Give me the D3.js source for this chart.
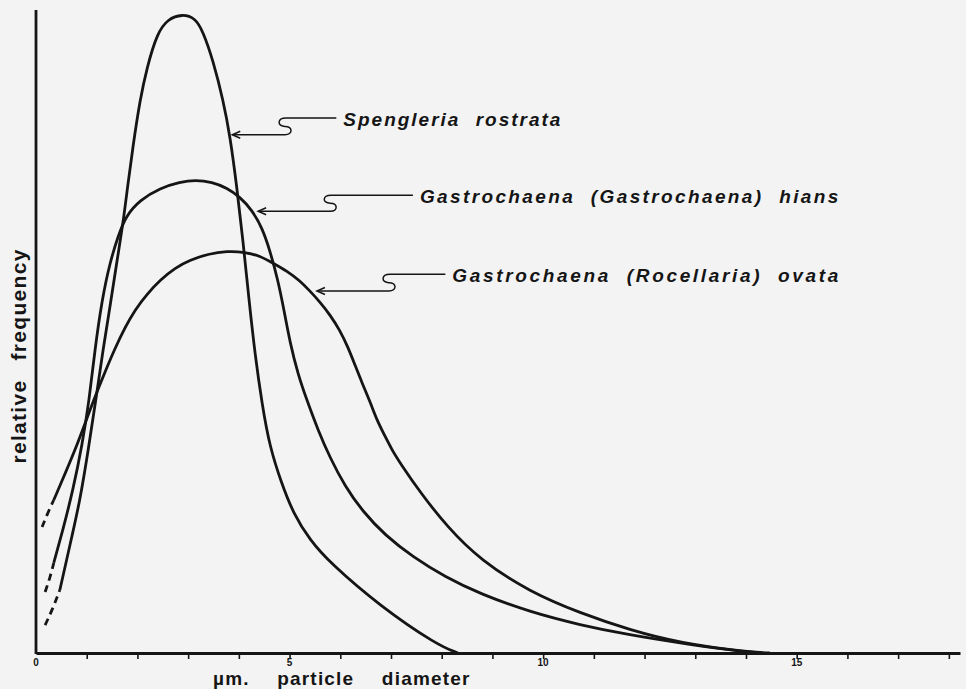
<!DOCTYPE html>
<html>
<head>
<meta charset="utf-8">
<script src="https://cdn.jsdelivr.net/npm/d3@7"></script>
<style>
  body { margin: 0; background: #f3f3f3; }
  svg { display: block; }
  text { font-family: "Liberation Sans", Arial, sans-serif; fill: #151515; }
</style>
</head>
<body>
<div id="chart"></div>
<script>
// particle diameter (um) vs relative frequency
var spengleria = [
    [0.18, 4.35], [0.32, 6.69], [0.47, 9.80], [0.67, 16.80], [0.87, 23.79], [1.03, 31.57],
    [1.18, 39.35], [1.32, 47.12], [1.48, 54.90], [1.60, 61.12], [1.72, 67.03], [1.81, 72.78],
    [1.91, 78.69], [2.05, 86.00], [2.19, 91.14], [2.39, 96.42], [2.60, 98.60], [2.88, 99.38],
    [3.14, 98.76], [3.29, 96.73], [3.49, 92.22], [3.69, 86.00], [3.83, 80.25], [3.96, 72.47],
    [4.08, 64.23], [4.20, 54.90], [4.32, 46.35], [4.46, 38.57], [4.61, 32.04], [4.84, 26.44],
    [5.07, 21.77], [5.40, 17.57], [5.80, 14.00], [6.78, 7.31], [7.91, 1.24], [8.32, 0]
];
var hians = [
    [0.18, 9.49], [0.28, 11.82], [0.35, 14.00], [0.53, 19.13], [0.73, 25.35], [0.91, 32.35],
    [1.05, 39.35], [1.16, 47.12], [1.30, 54.90], [1.46, 60.81], [1.62, 64.85], [1.77, 67.96],
    [2.05, 70.45], [2.45, 72.32], [2.84, 73.25], [3.14, 73.56], [3.47, 73.25], [3.77, 72.32],
    [4.02, 70.92], [4.26, 68.90], [4.46, 66.10], [4.61, 62.67], [4.77, 58.01], [4.89, 53.34],
    [5.01, 48.21], [5.17, 43.23], [5.34, 39.35], [5.56, 34.68], [5.80, 30.33], [6.09, 25.97],
    [6.45, 21.93], [6.88, 18.35], [7.43, 14.93], [8.07, 11.82], [8.76, 9.18], [9.74, 6.38],
    [10.73, 4.35], [11.71, 2.80], [12.70, 1.56], [13.69, 0.47], [14.28, 0]
];
var ovata = [
    [0.12, 19.60], [0.24, 21.93], [0.35, 23.79], [0.57, 27.84], [0.77, 31.57], [0.97, 35.77],
    [1.16, 39.81], [1.36, 43.70], [1.56, 47.43], [1.76, 50.70], [1.95, 53.34], [2.19, 55.83],
    [2.45, 58.01], [2.74, 59.88], [3.04, 61.12], [3.39, 62.05], [3.77, 62.52], [4.12, 62.36],
    [4.42, 61.74], [4.67, 60.65], [4.95, 59.41], [5.21, 57.85], [5.40, 56.30], [5.60, 54.59],
    [5.80, 52.57], [5.99, 50.23], [6.15, 47.59], [6.29, 44.79], [6.43, 41.99], [6.59, 39.04],
    [6.72, 36.24], [6.88, 33.75], [7.02, 31.57], [7.18, 29.55], [7.57, 25.04], [8.11, 19.60],
    [8.76, 14.46], [9.74, 9.49], [10.73, 6.22], [11.71, 3.58], [12.70, 1.56], [14.02, 0.16],
    [14.47, 0]
];
// below these diameters the curves are drawn dashed (extrapolated)
var dashedUpTo = [0.47, 0.35, 0.35];

var seriesNames = [
    "Spengleria rostrata",
    "Gastrochaena (Gastrochaena) hians",
    "Gastrochaena (Rocellaria) ovata"
];
var xTicks = d3.range(1, 19);
var xTickLabels = [0, 5, 10, 15];

// label leaders, in data units: arrow tip, S bend, text start / end
var leaderTips = [[3.87, 80.6], [4.38, 68.7], [5.54, 56.3]];
var leaderBends = [[4.91, 83.2], [5.80, 71.2], [6.96, 58.9]];
var labelSpan = [[6.06, 10.34], [7.57, 15.82], [8.21, 15.82]];

var margin = {top: 10, right: 6, bottom: 36, left: 36},
    width = 966 - margin.left - margin.right,
    height = 689 - margin.top - margin.bottom;

var svg = d3.select("#chart")
    .append("svg")
        .attr("width", 966)
        .attr("height", 689);

svg.append("rect")
    .attr("width", 966)
    .attr("height", 689)
    .attr("fill", "#f3f3f3");

var g = svg.append("g")
    .attr("transform", "translate(" + margin.left + "," + margin.top + ")");

var x = d3.scaleLinear().domain([0, 18.22]).range([0, width]);
var y = d3.scaleLinear().domain([0, 100]).range([height, 0]);

var line = d3.line()
    .x(function(d) { return x(d[0]); })
    .y(function(d) { return y(d[1]); })
    .curve(d3.curveBasis);

[spengleria, hians, ovata].forEach(function(pts, i) {
    var cut = dashedUpTo[i];
    g.append("path")
        .attr("d", line(pts.filter(function(d) { return d[0] <= cut; })))
        .attr("fill", "none")
        .attr("stroke", "#151515")
        .attr("stroke-width", 2.8)
        .attr("stroke-dasharray", "7,5");
    g.append("path")
        .attr("d", line(pts.filter(function(d) { return d[0] >= cut; })))
        .attr("fill", "none")
        .attr("stroke", "#151515")
        .attr("stroke-width", 2.8);
});

// axes
var xAxis = g.append("g")
    .attr("transform", "translate(0," + height + ")")
    .call(d3.axisBottom(x)
        .tickValues(xTicks)
        .tickSize(6)
        .tickSizeOuter(0)
        .tickFormat(function() { return ""; }));
xAxis.select(".domain").attr("stroke", "#151515").attr("stroke-width", 2.8);
xAxis.selectAll(".tick line").attr("stroke", "#151515").attr("stroke-width", 1.6);

g.selectAll(".xlab")
    .data(xTickLabels)
    .enter()
    .append("text")
    .attr("class", "xlab")
    .attr("x", function(d) { return x(d); })
    .attr("y", height + 13)
    .attr("text-anchor", "middle")
    .attr("font-size", "10px")
    .attr("font-weight", "bold")
    .text(function(d) { return d; });

g.append("line")
    .attr("x1", x(0))
    .attr("x2", x(0))
    .attr("y1", 0)
    .attr("y2", height + 1)
    .attr("stroke", "#151515")
    .attr("stroke-width", 2.8);

g.append("text")
    .attr("x", x(3.49))
    .attr("y", height + 32)
    .attr("font-size", "19px")
    .attr("font-weight", "bold")
    .attr("letter-spacing", "1.2px")
    .attr("word-spacing", "21px")
    .text("\u00b5m. particle diameter");

svg.append("text")
    .attr("transform", "translate(26," + (margin.top + y(46.2)) + ") rotate(-90)")
    .attr("text-anchor", "middle")
    .attr("font-size", "21px")
    .attr("font-weight", "bold")
    .attr("letter-spacing", "1.3px")
    .attr("word-spacing", "12px")
    .text("relative frequency");

// species labels with S-shaped leaders
seriesNames.forEach(function(name, i) {
    var tx = x(leaderTips[i][0]), ty = y(leaderTips[i][1]);
    var cx = x(leaderBends[i][0]), yt = y(leaderBends[i][1]);
    var ym = (ty + yt) / 2;
    var lx = x(labelSpan[i][0]), rx = x(labelSpan[i][1]);

    g.append("path")
        .attr("d", "M" + tx + "," + ty + " L" + cx + "," + ty +
            " C" + (cx + 8) + "," + ty + " " + (cx + 8) + "," + ym + " " + cx + "," + ym +
            " C" + (cx - 8) + "," + ym + " " + (cx - 8) + "," + yt + " " + (cx + 1) + "," + yt +
            " L" + (lx - 7) + "," + yt)
        .attr("fill", "none")
        .attr("stroke", "#151515")
        .attr("stroke-width", 1.5);

    g.append("path")
        .attr("d", "M" + (tx + 8) + "," + (ty - 3.5) + " L" + tx + "," + ty + " L" + (tx + 8) + "," + (ty + 3.5))
        .attr("fill", "none")
        .attr("stroke", "#151515")
        .attr("stroke-width", 1.5);

    g.append("text")
        .attr("x", lx)
        .attr("y", yt + 8)
        .attr("font-size", "19px")
        .attr("font-weight", "bold")
        .attr("font-style", "italic")
        .attr("word-spacing", "8px")
        .attr("textLength", rx - lx)
        .attr("lengthAdjust", "spacing")
        .text(name);
});
</script>
</body>
</html>
